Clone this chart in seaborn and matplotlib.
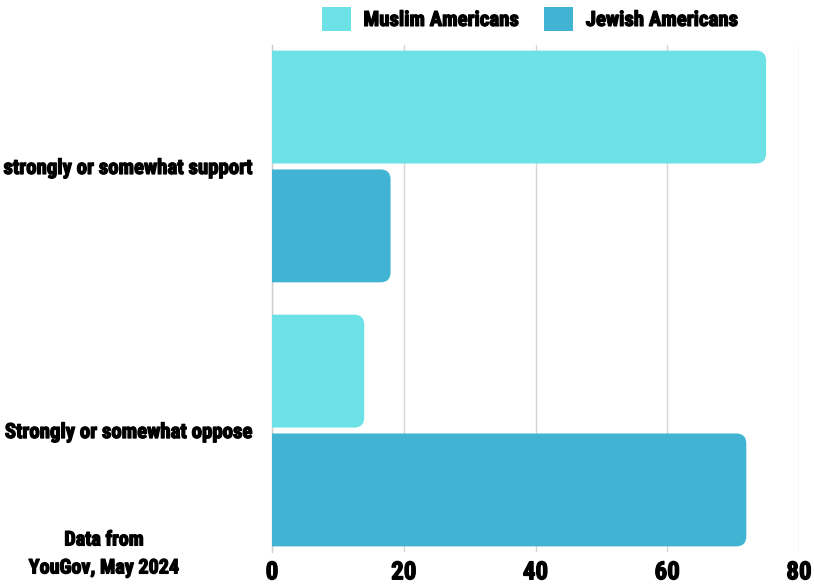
import matplotlib
matplotlib.use("Agg")
import matplotlib.pyplot as plt
from matplotlib import font_manager
from matplotlib import patheffects as pe
from matplotlib.patches import FancyBboxPatch, Patch
import seaborn as sns
import pandas as pd

categories = ["strongly or somewhat support", "Strongly or somewhat oppose"]
groups = ["Muslim Americans", "Jewish Americans"]
muslim_values = [75, 14]
jewish_values = [18, 72]
x_ticks = [0, 20, 40, 60, 80]
source_note = "Data from\nYouGov, May 2024"

colors = {"Muslim Americans": "#6ce2e6", "Jewish Americans": "#40b4d2"}

fonts = font_manager.fontManager.ttflist
installed = {f.name for f in fonts}
family = "DejaVu Sans"
for cand in ["Roboto Condensed", "Liberation Sans Narrow", "DejaVu Sans Condensed", "Liberation Sans"]:
    if cand in installed:
        family = cand
        break

sns.set_theme(style="white")
plt.rcParams["font.family"] = [family, "DejaVu Sans"]
W = "bold"
thick = [pe.withStroke(linewidth=0.9, foreground="black")]

df = pd.DataFrame({
    "category": categories * 2,
    "group": [groups[0]] * len(categories) + [groups[1]] * len(categories),
    "value": muslim_values + jewish_values,
})

fig = plt.figure(figsize=(8.14, 5.84), dpi=100)
ax = fig.add_axes([272 / 814, 1 - 552 / 584, (799 - 272) / 814, (552 - 45) / 584])

sns.barplot(data=df, y="category", x="value", hue="group", order=categories,
            hue_order=groups, palette=colors, width=0.9, gap=0.05,
            orient="h", ax=ax, legend=False, linewidth=0, saturation=1)

ax.set_xlim(0, 80)
ax.set_ylim(1.46, -0.46)

# round the right-hand corners of each bar
px_per_x = (799 - 272) / 80
px_per_y = (552 - 45) / 1.92
r = 10 / px_per_x
aspect = px_per_x / px_per_y
for p in list(ax.patches):
    x0, y0 = p.get_x(), p.get_y()
    w, h = p.get_width(), p.get_height()
    fc = p.get_facecolor()
    p.remove()
    fb = FancyBboxPatch((x0 - r * 2, y0), w + r * 2, h,
                        boxstyle=f"round,pad=0,rounding_size={r}",
                        mutation_aspect=aspect, facecolor=fc, edgecolor="none",
                        zorder=2)
    ax.add_patch(fb)

ax.set_xticks(x_ticks)
ax.set_xticklabels([str(t) for t in x_ticks])
ax.grid(axis="x", color="#d4d4d4", linewidth=1, zorder=0)
ax.set_axisbelow(True)
for s in ["top", "right", "bottom"]:
    ax.spines[s].set_visible(False)
ax.spines["left"].set_color("#cfcfcf")
ax.spines["left"].set_linewidth(1)
ax.spines["left"].set_zorder(1)
ax.tick_params(axis="both", length=0)
ax.tick_params(axis="x", pad=6, labelsize=18, labelcolor="black")
ax.tick_params(axis="y", pad=14, labelsize=15, labelcolor="black")
for lab in ax.get_xticklabels() + ax.get_yticklabels():
    lab.set_fontweight(W)
    lab.set_path_effects(thick)
ax.set_xlabel("")
ax.set_ylabel("")

handles = [Patch(facecolor=colors[g], edgecolor="none") for g in groups]
leg = fig.legend(handles, groups, loc="center", bbox_to_anchor=(530 / 814, 1 - 19 / 584),
                 ncol=2, frameon=False, handlelength=1.4, handleheight=1.4,
                 handletextpad=0.6, columnspacing=1.2,
                 prop={"family": [family, "DejaVu Sans"], "size": 15, "weight": W})
for t in leg.get_texts():
    t.set_color("black")
    t.set_path_effects(thick)

fig.text(104 / 814, 1 - 554 / 584, source_note, ha="center", va="center",
         fontsize=14.5, fontweight=W, linespacing=1.6, color="black",
         path_effects=thick)

fig.savefig("out.png", dpi=100, facecolor="white")
